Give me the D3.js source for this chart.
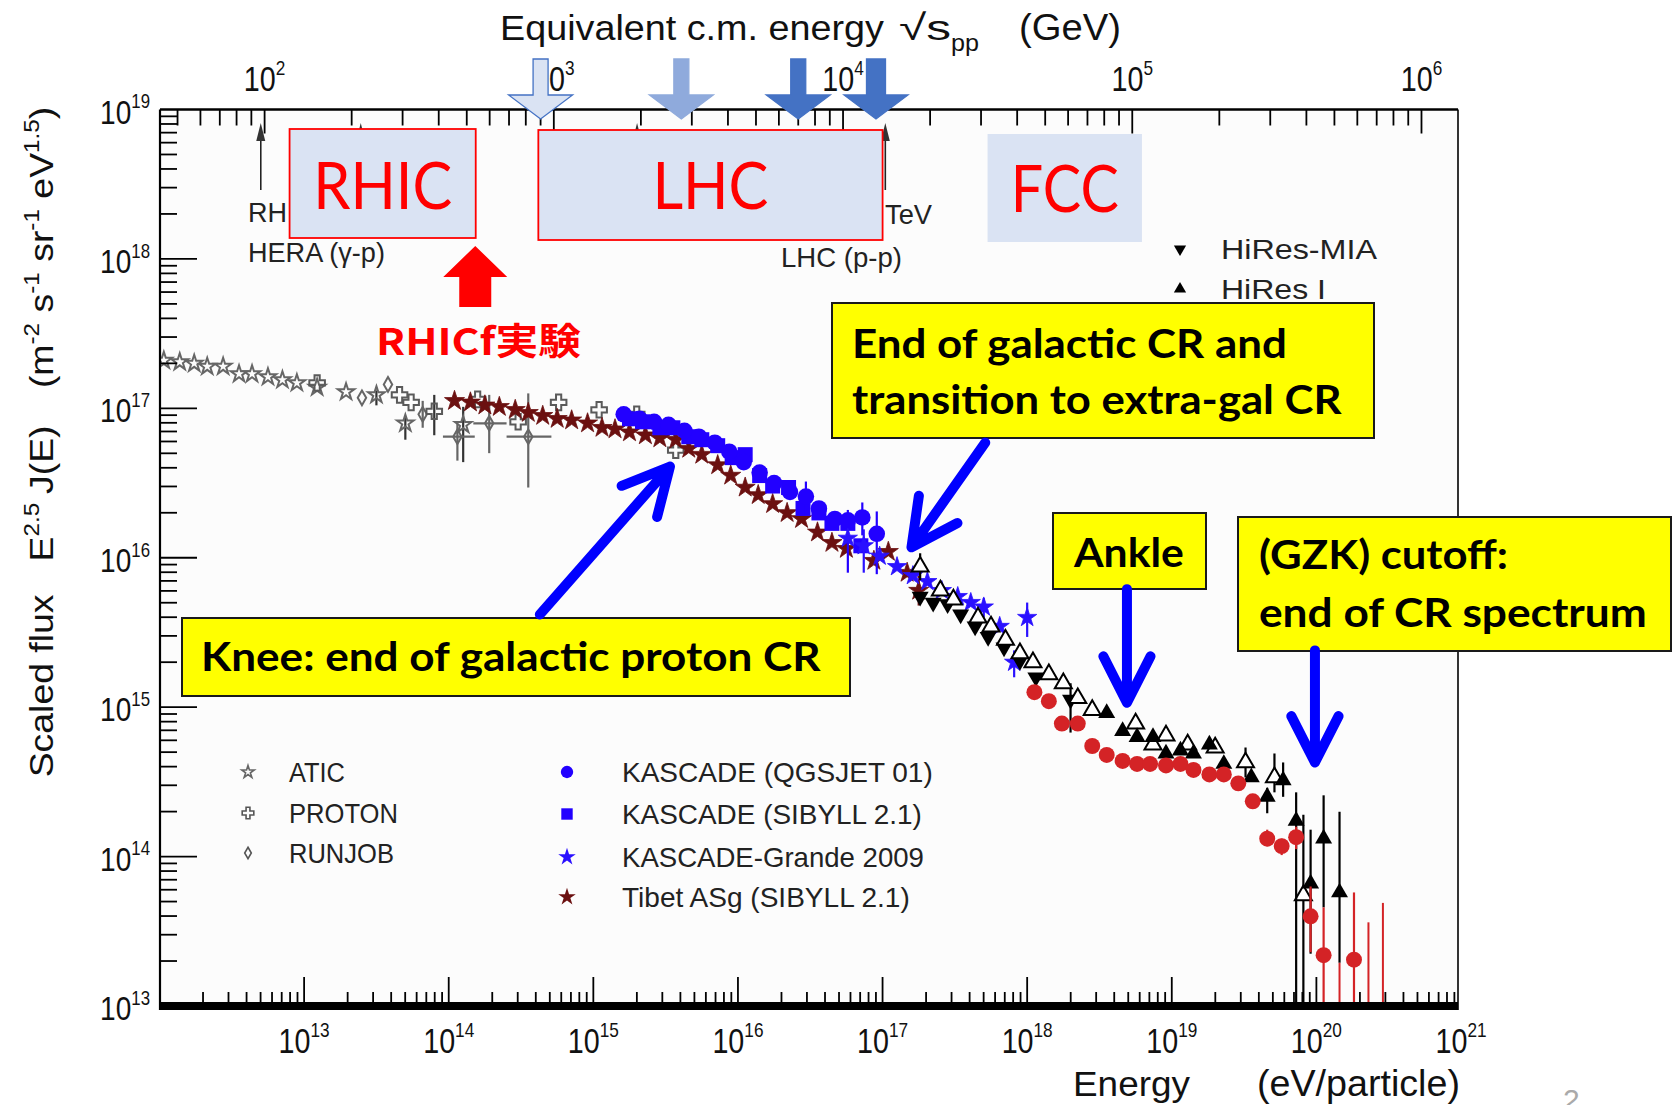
<!DOCTYPE html>
<html>
<head>
<meta charset="utf-8">
<script src="https://cdn.jsdelivr.net/npm/d3@7"></script>
<style>
  html, body { margin: 0; padding: 0; background: #fff; }
  svg { display: block; }
  text { white-space: pre; }
</style>
</head>
<body>
<svg id="chart" width="1677" height="1105"></svg>
<script>
// ---------------------------------------------------------------------------
// Cosmic-ray all-particle spectrum, scaled flux E^2.5 J(E).
// Every point is [log10 E (eV), log10 flux, log10 flux low, log10 flux high,
//                 log10 E low, log10 E high]; the error entries are optional.
// ---------------------------------------------------------------------------
const atic = [
  [12.03,17.32],[12.14,17.31],[12.24,17.30],[12.33,17.28],[12.44,17.28],
  [12.55,17.23],[12.64,17.23],[12.75,17.21],[12.85,17.19],[12.95,17.17],
  [13.09,17.14],[13.29,17.11],[13.50,17.09,17.02,17.12],[13.70,16.90,16.79,16.94],
  [14.10,16.89,16.64,17.01]
];
const proton = [
  [13.09,17.17],[13.66,17.09],[13.74,17.04],[13.90,16.98,16.82,17.09],[14.20,17.06],
  [14.48,16.91],[14.76,17.04],[15.04,16.99],[15.30,16.96],[15.57,16.72]
];
const runjob = [
  [13.40,17.07],[13.58,17.16],[13.82,16.96,16.87,17.05],
  [14.06,16.81,16.65,16.90,13.96,14.18],
  [14.28,16.90,16.70,17.09,14.17,14.40],
  [14.55,16.81,16.47,17.10,14.40,14.71]
];
const tibet = [
  [14.04,17.05],[14.15,17.04],[14.25,17.02],[14.35,17.01],[14.46,16.99],[14.55,16.97],
  [14.65,16.95],[14.75,16.93],[14.85,16.92],[14.96,16.90],[15.06,16.87],[15.15,16.86],
  [15.25,16.84],[15.36,16.82],[15.46,16.80],[15.57,16.79],[15.66,16.73],[15.75,16.69],
  [15.86,16.62],[15.95,16.55],[16.05,16.47],[16.14,16.42],[16.24,16.36],[16.34,16.30],
  [16.44,16.26],[16.55,16.17],[16.65,16.10],[16.75,16.06],[16.94,15.98],[17.04,16.04],
  [17.17,15.90],[17.25,15.78,15.68,15.88]
];
const kascadeQgsjet = [
  [15.21,16.96],[15.32,16.93],[15.42,16.91],[15.52,16.89],[15.63,16.85],[15.73,16.81],
  [15.84,16.77],[15.94,16.71],[16.04,16.64],[16.15,16.57],[16.25,16.50],[16.36,16.44],
  [16.47,16.41,16.29,16.51],[16.56,16.33],[16.67,16.26],[16.76,16.25,15.90,16.32],
  [16.86,16.27,16.15,16.37],[16.96,16.16,15.89,16.31]
];
const kascadeSibyll = [
  [15.25,16.93],[15.34,16.91],[15.46,16.87],[15.55,16.87],[15.66,16.81],[15.75,16.79],
  [15.86,16.75],[15.96,16.67],[16.05,16.69],[16.15,16.55],[16.24,16.48],[16.35,16.47],
  [16.45,16.33],[16.56,16.30,16.26,16.34],[16.65,16.23],[16.76,16.23],[16.85,16.08]
];
const kascadeGrande = [
  [16.76,16.13],[16.87,16.08,15.90,16.19],[16.98,16.01],[17.10,15.94],[17.21,15.88],
  [17.31,15.84],[17.41,15.78],[17.52,15.74],[17.61,15.70],[17.70,15.67,15.60,15.73],
  [17.81,15.54],[17.91,15.30,15.20,15.38],[18.00,15.60,15.47,15.70]
];
const hiresMia = [
  [17.26,15.74],[17.35,15.70],[17.45,15.69],[17.54,15.62],[17.64,15.54],[17.73,15.47],
  [17.84,15.40],[17.95,15.31],[18.06,15.20],[18.30,15.05,14.83,15.16]
];
const hiresI = [
  [18.55,14.96],[18.66,14.84],[18.76,14.80],[18.87,14.80],[18.96,14.69],[19.06,14.71],
  [19.15,14.69],[19.26,14.75],[19.36,14.62],[19.55,14.53],[19.66,14.40,14.29,14.46],
  [19.77,14.51,14.40,14.63],[19.86,14.24,12.9,14.43],[19.96,13.82,13.35,14.18],
  [20.05,14.12,13.66,14.41],[20.16,13.76,13.29,14.30]
];
const hiresII = [
  [17.26,15.94,15.85,16.03],[17.40,15.78],[17.49,15.72],[17.66,15.60],[17.75,15.54],
  [17.85,15.45],[17.95,15.36],[18.04,15.30],[18.15,15.22],[18.25,15.16],[18.35,15.06],
  [18.45,14.98],[18.75,14.89],[18.87,14.75],[18.96,14.81],[19.11,14.75],[19.30,14.73],
  [19.51,14.63,14.53,14.73],[19.71,14.53,14.43,14.69],[19.91,13.74,12.9,14.28]
];
const auger = [
  [18.05,15.10],[18.15,15.04],[18.24,14.89],[18.35,14.89],[18.45,14.74],[18.55,14.68],
  [18.66,14.64],[18.76,14.62],[18.85,14.62],[18.96,14.61],[19.06,14.62],[19.15,14.58],
  [19.26,14.55],[19.36,14.55],[19.46,14.49],[19.56,14.37],[19.66,14.12,14.07,14.18],
  [19.76,14.07,14.01,14.12],[19.86,14.13,14.05,14.20],[19.96,13.60,13.36,13.80],
  [20.05,13.34,12.9,13.66],[20.26,13.31,12.9,13.76]
];
// Auger bins with only an upper bound: [log10 E, log10 upper flux]
const augerLimits = [[20.16,13.29],[20.36,13.56],[20.46,13.69]];

// Axis tick labels (exponents of ten)
const bottomExponents = [13,14,15,16,17,18,19,20,21];
const leftExponents = [13,14,15,16,17,18,19];
const topExponents = [2,3,4,5,6];

// Legend names
const legendLeft = ['ATIC','PROTON','RUNJOB'];
const legendMid = ['KASCADE (QGSJET 01)','KASCADE (SIBYLL 2.1)','KASCADE-Grande 2009','Tibet ASg (SIBYLL 2.1)'];
const legendRight = ['HiRes-MIA','HiRes I','HiRes II','Auger 2009'];

// Accelerator reach in sqrt(s) [GeV]
const colliders = [
  {name:'RHIC', lo:122,   hi:537,    outline:true},
  {name:'LHC',  lo:884,   hi:13700,  outline:true},
  {name:'FCC',  lo:31600, hi:108000, outline:false}
];
const lhcRuns = [900, 2760, 7000, 13000];          // sqrt(s) of LHC runs [GeV]
const lhcRunFills = ['#dae3f3','#8faadc','#4472c4','#4472c4'];
const refMarks = [97, 215, 1940, 14000];            // thin marker arrows [GeV]
const rhicfEnergy = 535;                            // RHICf marker [GeV]

// ---------------------------------------------------------------------------
const SANS = "'Liberation Sans', Arial, Helvetica, sans-serif";
const CAL = "Lato, 'Open Sans', sans-serif";
const CJK = "'Noto Sans CJK JP', 'Noto Sans CJK SC', sans-serif";
const P10 = v => Math.pow(10, v);

const svg = d3.select('#chart');
const L = 160, R = 1458, T = 109.5, B = 1006;

const x = d3.scaleLog().domain([1e12, 1e21]).range([159.5, 1461]);
const y = d3.scaleLog().domain([1e13, 1e19]).range([B, T]);
const MP = 0.938;
const sqrtS = e => Math.sqrt(2 * MP * e / 1e9);
const xTop = d3.scaleLog().domain([sqrtS(1e12), sqrtS(1e21)]).range([159.5, 1461]);
const px = d => x(P10(d[0]));
const py = d => y(P10(d[1]));

function label(parent, o) {
  const size = o.size;
  const g = parent.append('g');
  const t = g.append('text')
    .attr('font-family', o.family || SANS)
    .attr('font-size', size)
    .attr('font-weight', o.weight || 400)
    .attr('fill', o.fill || '#111')
    .attr('text-anchor', o.anchor || 'start');
  let shift = 0;
  const parts = typeof o.parts === 'string' ? [o.parts] : o.parts;
  parts.forEach(p => {
    if (typeof p === 'string') p = {t: p};
    const target = p.sup ? -size * (o.rise || 0.45) : p.sub ? size * 0.28 : 0;
    const ts = t.append('tspan').text(p.t).attr('dy', target - shift);
    if (p.dx) ts.attr('dx', p.dx);
    if (p.sup || p.sub) ts.attr('font-size', size * (o.supScale || 0.62));
    shift = target;
  });
  let k = o.sx || 1;
  if (o.width) k = o.width / t.node().getBBox().width;
  g.attr('transform', `translate(${o.x},${o.y})${o.rotate ? ` rotate(${o.rotate})` : ''} scale(${k},1)`);
  return g;
}

function draw() {
  // plot background
  svg.append('rect').attr('x', L).attr('y', T).attr('width', R - L).attr('height', B - T)
    .attr('fill', '#fcfcfc');

  svg.append('clipPath').attr('id', 'plotClip').append('rect')
    .attr('x', L).attr('y', T).attr('width', R - L).attr('height', 1002 - T);
  const data = svg.append('g').attr('clip-path', 'url(#plotClip)');

  const series = [
    {d: atic, sym: d3.symbolStar, size: 85, fill: 'none', stroke: '#666', sw: 2, err: '#333'},
    {d: runjob, sym: d3.symbolDiamond, size: 62, fill: 'none', stroke: '#666', sw: 2, err: '#666'},
    {d: proton, sym: d3.symbolCross, size: 135, fill: 'none', stroke: '#5a5a5a', sw: 2, err: '#333'},
    {d: tibet, sym: d3.symbolStar, size: 125, fill: '#6b1010', stroke: '#6b1010', sw: 0.8, err: '#6b1010'},
    {d: kascadeSibyll, sym: d3.symbolSquare, size: 225, fill: '#2200ff', stroke: 'none', err: '#2200ff'},
    {d: kascadeQgsjet, sym: d3.symbolCircle, size: 215, fill: '#2200ff', stroke: 'none', err: '#2200ff'},
    {d: kascadeGrande, sym: d3.symbolStar, size: 115, fill: '#2a10ff', stroke: '#2a10ff', sw: 0.8, err: '#2a10ff'},
    {d: hiresMia, sym: d3.symbolTriangle, rot: 180, size: 125, fill: '#000', stroke: 'none', err: '#000'},
    {d: hiresII, sym: d3.symbolTriangle, size: 125, fill: '#fff', stroke: '#000', sw: 2, err: '#000'},
    {d: hiresI, sym: d3.symbolTriangle, size: 125, fill: '#000', stroke: 'none', err: '#000'},
    {d: auger, sym: d3.symbolCircle, size: 200, fill: '#d42326', stroke: 'none', err: '#d42326'}
  ];

  // Auger upper-bound bars
  data.selectAll('line.lim').data(augerLimits).join('line')
    .attr('x1', px).attr('x2', px)
    .attr('y1', py).attr('y2', B + 10)
    .attr('stroke', '#d42326').attr('stroke-width', 2);

  series.forEach(s => {
    const g = data.append('g');
    g.selectAll('line.ey').data(s.d.filter(d => d.length >= 4)).join('line')
      .attr('x1', px).attr('x2', px)
      .attr('y1', d => y(P10(d[2]))).attr('y2', d => y(P10(d[3])))
      .attr('stroke', s.err).attr('stroke-width', 2.2);
    g.selectAll('line.ex').data(s.d.filter(d => d.length >= 6)).join('line')
      .attr('y1', py).attr('y2', py)
      .attr('x1', d => x(P10(d[4]))).attr('x2', d => x(P10(d[5])))
      .attr('stroke', s.err).attr('stroke-width', 2.2);
    g.selectAll('path').data(s.d).join('path')
      .attr('d', d3.symbol().type(s.sym).size(s.size)())
      .attr('transform', d => `translate(${px(d)},${py(d)})${s.rot ? ` rotate(${s.rot})` : ''}`)
      .attr('fill', s.fill).attr('stroke', s.stroke).attr('stroke-width', s.sw || 0);
  });

  // ---------------- axes ----------------
  const axes = svg.append('g');
  const isMajor = v => Math.abs(Math.log10(v) - Math.round(Math.log10(v))) < 1e-9;

  // bottom ticks + thick axis band
  x.ticks().filter(v => x(v) > L + 1 && x(v) < R).forEach(v => {
    const xv = x(v);
    axes.append('line').attr('x1', xv).attr('x2', xv).attr('y1', 1003)
      .attr('y2', 1003 - (isMajor(v) ? 26 : 11)).attr('stroke', '#000').attr('stroke-width', 1.8);
  });
  axes.append('rect').attr('x', L).attr('y', 1002).attr('width', R - L).attr('height', 8).attr('fill', '#000');

  // left ticks
  y.ticks().filter(v => y(v) > T + 1 && y(v) < 1002).forEach(v => {
    const yv = y(v);
    axes.append('line').attr('x1', L).attr('x2', L + (isMajor(v) ? 37 : 17))
      .attr('y1', yv).attr('y2', yv).attr('stroke', '#000').attr('stroke-width', 1.8);
  });

  // top ticks (sqrt s)
  xTop.ticks().filter(v => xTop(v) > L + 1 && xTop(v) < R).forEach(v => {
    const xv = xTop(v);
    axes.append('line').attr('x1', xv).attr('x2', xv).attr('y1', T)
      .attr('y2', T + (isMajor(v) ? 24 : 16)).attr('stroke', '#000').attr('stroke-width', 1.8);
  });

  // frame
  axes.append('line').attr('x1', L).attr('x2', L).attr('y1', T).attr('y2', 1010).attr('stroke', '#000').attr('stroke-width', 2.2);
  axes.append('line').attr('x1', L).attr('x2', R).attr('y1', T).attr('y2', T).attr('stroke', '#000').attr('stroke-width', 2.4);
  axes.append('line').attr('x1', R).attr('x2', R).attr('y1', T).attr('y2', 1010).attr('stroke', '#000').attr('stroke-width', 1.6);

  // tick labels
  bottomExponents.forEach(e => label(axes, {x: x(P10(e)), y: 1053, size: 35, sx: 0.82, anchor: 'middle',
    parts: ['10', {t: String(e), sup: true}], rise: 0.46, supScale: 0.6}));
  leftExponents.forEach(e => label(axes, {x: 150, y: y(P10(e)) + 14, size: 33, sx: 0.85, anchor: 'end',
    parts: ['10', {t: String(e), sup: true}], rise: 0.46, supScale: 0.6}));
  topExponents.forEach(e => label(axes, {x: xTop(P10(e)), y: 91, size: 35, sx: 0.82, anchor: 'middle',
    parts: ['10', {t: String(e), sup: true}], rise: 0.46, supScale: 0.6}));

  // axis titles
  label(svg, {x: 500, y: 40, size: 36, width: 384, parts: 'Equivalent c.m. energy'});
  label(svg, {x: 899, y: 40, size: 36, width: 52, parts: '\u221As'});
  label(svg, {x: 951, y: 51, size: 24, width: 28, parts: 'pp'});
  label(svg, {x: 1019, y: 40, size: 36, width: 102, parts: '(GeV)'});
  label(svg, {x: 1073, y: 1096, size: 36, width: 117, parts: 'Energy'});
  label(svg, {x: 1257, y: 1096, size: 36, width: 203, parts: '(eV/particle)'});
  label(svg, {x: 53, y: 442, size: 34, width: 671, anchor: 'middle', rotate: -90, rise: 0.42, supScale: 0.65,
    parts: ['Scaled flux', {t: 'E', dx: 30}, {t: '2.5', sup: true}, {t: 'J(E)', dx: 8}, {t: '(m', dx: 34},
      {t: '-2', sup: true}, ' s', {t: '-1', sup: true}, ' sr', {t: '-1', sup: true}, ' eV', {t: '1.5', sup: true}, ')']});

  // ---------------- reference markers at top ----------------
  const notes = svg.append('g');
  refMarks.forEach(s => {
    const xv = xTop(s);
    notes.append('line').attr('x1', xv).attr('x2', xv).attr('y1', 190).attr('y2', 135)
      .attr('stroke', '#222').attr('stroke-width', 1.6);
    notes.append('path').attr('d', `M${xv},${123}L${xv + 4.5},${141}L${xv - 4.5},${141}Z`).attr('fill', '#333');
  });
  label(notes, {x: 248, y: 222, size: 27, fill: '#222', parts: 'RHIC (p-p)'});
  label(notes, {x: 248, y: 262, size: 27, fill: '#222', width: 137, parts: 'HERA (\u03b3-p)'});
  label(notes, {x: 885, y: 224, size: 27, fill: '#222', width: 47, parts: 'TeV'});
  label(notes, {x: 781, y: 267, size: 27, fill: '#222', width: 121, parts: 'LHC (p-p)'});

  // ---------------- legends ----------------
  const leg = svg.append('g');
  const legLeftSyms = [
    {sym: d3.symbolStar, size: 48, fill: 'none', stroke: '#666'},
    {sym: d3.symbolCross, size: 75, fill: 'none', stroke: '#555'},
    {sym: d3.symbolDiamond, size: 38, fill: 'none', stroke: '#555'}
  ];
  const legLeftY = [772, 813, 853];
  const legLeftW = [56, 109, 105];
  legendLeft.forEach((n, i) => {
    const s = legLeftSyms[i];
    leg.append('path').attr('d', d3.symbol().type(s.sym).size(s.size)())
      .attr('transform', `translate(248,${legLeftY[i]})`).attr('fill', s.fill).attr('stroke', s.stroke).attr('stroke-width', 1.6);
    label(leg, {x: 289, y: legLeftY[i] + 10, size: 27, width: legLeftW[i], fill: '#222', parts: n});
  });
  const legMidSyms = [
    {sym: d3.symbolCircle, size: 120, fill: '#2200ff'},
    {sym: d3.symbolSquare, size: 130, fill: '#2200ff'},
    {sym: d3.symbolStar, size: 95, fill: '#2a10ff'},
    {sym: d3.symbolStar, size: 95, fill: '#6b1010'}
  ];
  const legMidY = [772, 814, 857, 897];
  const legMidW = [311, 300, 302, 288];
  legendMid.forEach((n, i) => {
    const s = legMidSyms[i];
    leg.append('path').attr('d', d3.symbol().type(s.sym).size(s.size)())
      .attr('transform', `translate(567,${legMidY[i]})`).attr('fill', s.fill);
    label(leg, {x: 622, y: legMidY[i] + 10, size: 27, width: legMidW[i], fill: '#222', parts: n});
  });
  const legRightSyms = [
    {sym: d3.symbolTriangle, rot: 180, fill: '#000', stroke: 'none'},
    {sym: d3.symbolTriangle, fill: '#000', stroke: 'none'},
    {sym: d3.symbolTriangle, fill: '#fff', stroke: '#000'},
    {sym: d3.symbolCircle, fill: '#d42326', stroke: 'none'}
  ];
  const legRightY = [249, 289, 329, 369];
  legendRight.forEach((n, i) => {
    const s = legRightSyms[i];
    leg.append('path').attr('d', d3.symbol().type(s.sym).size(65)())
      .attr('transform', `translate(1180,${legRightY[i]})${s.rot ? ' rotate(180)' : ''}`)
      .attr('fill', s.fill).attr('stroke', s.stroke).attr('stroke-width', 1.4);
    label(leg, {x: 1221, y: legRightY[i] + 10, size: 27, fill: '#222',
      width: i === 0 ? 156 : i === 1 ? 105 : undefined, sx: 0.98, parts: n});
  });

  // ---------------- collider boxes ----------------
  const boxY = {RHIC: [129, 238], LHC: [130, 240], FCC: [134, 242]};
  const boxText = {RHIC: [139, 209], LHC: [116, 209], FCC: [108, 212]};
  colliders.forEach(c => {
    const x0 = xTop(c.lo), x1 = xTop(c.hi), [y0, y1] = boxY[c.name];
    svg.append('rect').attr('x', x0).attr('y', y0).attr('width', x1 - x0).attr('height', y1 - y0)
      .attr('fill', '#dae3f3').attr('stroke', c.outline ? '#ff0000' : 'none').attr('stroke-width', 1.8);
    label(svg, {x: (x0 + x1) / 2, y: boxText[c.name][1], size: 65, family: CAL, fill: '#ff0000',
      anchor: 'middle', width: boxText[c.name][0], parts: c.name});
  });

  // LHC run arrows on the sqrt(s) axis
  lhcRuns.forEach((s, i) => {
    const xv = xTop(s), hw = i === 3 ? 9.5 : 7.5, HW = 32, top = 59, base = 95, tip = 119;
    svg.append('path')
      .attr('d', `M${xv - hw},${top}L${xv + hw},${top}L${xv + hw},${base}L${xv + HW},${base}L${xv},${tip}L${xv - HW},${base}L${xv - hw},${base}Z`)
      .attr('fill', lhcRunFills[i]).attr('stroke', i === 0 ? '#4472c4' : lhcRunFills[i]).attr('stroke-width', 1.3);
  });

  // RHICf marker
  {
    const xv = xTop(rhicfEnergy);
    svg.append('path')
      .attr('d', `M${xv},246L${xv + 32},277L${xv + 16},277L${xv + 16},307L${xv - 16},307L${xv - 16},277L${xv - 32},277Z`)
      .attr('fill', '#ff0000');
    label(svg, {x: 376, y: 355, size: 37, family: CJK, weight: 700, fill: '#ff0000', width: 205, parts: 'RHICf実験'});
  }

  // ---------------- annotation boxes ----------------
  const boxes = [
    {x: 832, y: 303, w: 542, h: 135, lines: [
      {t: 'End of galactic CR and', x: 852, y: 358, w: 435},
      {t: 'transition to extra-gal CR', x: 852, y: 414, w: 490}]},
    {x: 182, y: 618, w: 668, h: 78, lines: [
      {t: 'Knee: end of galactic proton CR', x: 201, y: 671, w: 620}]},
    {x: 1053, y: 513, w: 153, h: 76, lines: [
      {t: 'Ankle', x: 1074, y: 567, w: 111}]},
    {x: 1238, y: 517, w: 433, h: 134, lines: [
      {t: '(GZK) cutoff:', x: 1259, y: 569, w: 249},
      {t: 'end of CR spectrum', x: 1259, y: 627, w: 388}]}
  ];
  boxes.forEach(b => {
    svg.append('rect').attr('x', b.x).attr('y', b.y).attr('width', b.w).attr('height', b.h)
      .attr('fill', '#ffff00').attr('stroke', '#1a1a1a').attr('stroke-width', 2);
    b.lines.forEach(l => label(svg, {x: l.x, y: l.y, size: 40, family: CAL, weight: 700, fill: '#000', width: l.w, parts: l.t}));
  });

  // pointer arrows, in data coordinates: [tail, tip]
  const pointers = [
    [[14.63, 15.62], [15.53, 16.61]],
    [[17.71, 16.77], [17.20, 16.07]],
    [[18.69, 15.79], [18.69, 15.03]],
    [[19.99, 15.38], [19.99, 14.63]]
  ];
  pointers.forEach(([a, b]) => {
    const x0 = px(a), y0 = py(a), x1 = px(b), y1 = py(b);
    const ang = Math.atan2(y0 - y1, x0 - x1), len = 52, spread = 27 * Math.PI / 180;
    const p1 = [x1 + len * Math.cos(ang + spread), y1 + len * Math.sin(ang + spread)];
    const p2 = [x1 + len * Math.cos(ang - spread), y1 + len * Math.sin(ang - spread)];
    svg.append('path')
      .attr('d', `M${x0},${y0}L${x1},${y1}M${p1[0]},${p1[1]}L${x1},${y1}L${p2[0]},${p2[1]}`)
      .attr('fill', 'none').attr('stroke', '#0000ff').attr('stroke-width', 10)
      .attr('stroke-linecap', 'round').attr('stroke-linejoin', 'round');
  });

  // page number
  label(svg, {x: 1563, y: 1110, size: 30, fill: '#aaa', parts: '2'});
}

document.fonts.ready.then(draw);
</script>
</body>
</html>
